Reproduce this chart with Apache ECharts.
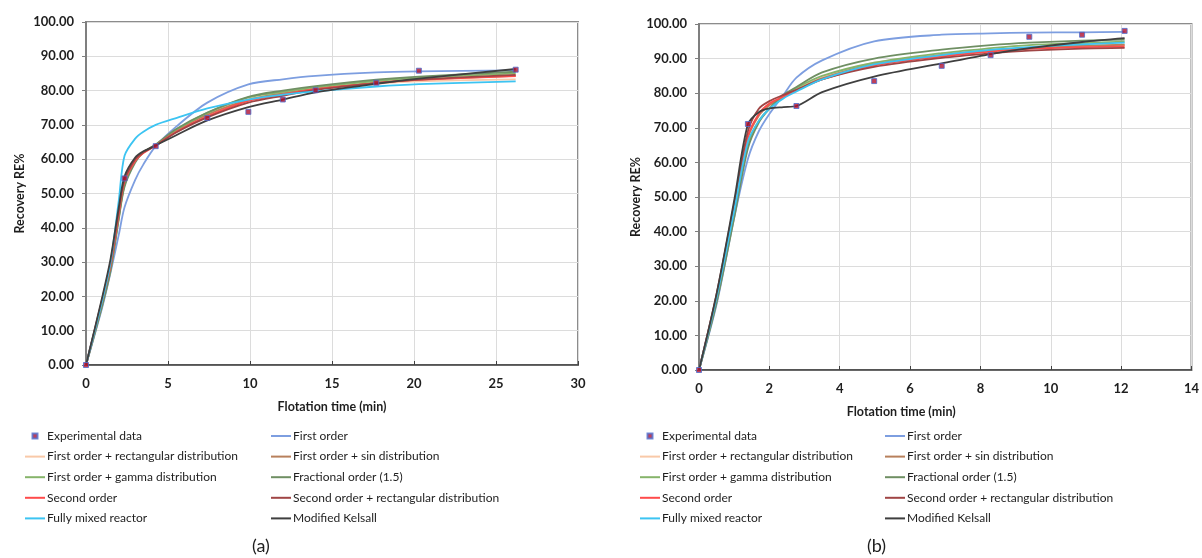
<!DOCTYPE html>
<html>
<head>
<meta charset="utf-8">
<script src="https://cdn.jsdelivr.net/npm/echarts@6/dist/echarts.min.js"></script>
<style>
  html, body { margin: 0; padding: 0; background: #fff; }
  #chart { width: 1202px; height: 558px; }
</style>
</head>
<body>
<div id="chart"></div>
<script>
// legend / series names (same for both panels)
const modelNames = [
  'First order',
  'First order + rectangular distribution',
  'First order + sin distribution',
  'First order + gamma distribution',
  'Fractional order (1.5)',
  'Second order',
  'Second order + rectangular distribution',
  'Fully mixed reactor',
  'Modified Kelsall'
]
const expName = 'Experimental data'

// panel (a)
const expTimeA = [0, 2.35, 4.25, 7.4, 9.9, 12, 14, 17.7, 20.3, 26.2]
const expRecA = [0, 54.4, 63.8, 72, 73.8, 77.4, 80.1, 82.3, 85.8, 86.1]
const fitTimeA = [0, 1, 1.5, 2, 2.35, 3, 3.5, 4.25, 5.5, 7.4, 9.9, 12, 14, 17.7, 20.3, 26.2]
const firstOrderA = [0, 17, 27, 38, 46, 54, 58.5, 63.8, 69.5, 76.5, 81.8, 83.3, 84.3, 85.3, 85.6, 85.9]
const firstRectA = [0, 18, 28, 43, 52.5, 59.5, 62, 64.2, 68.5, 73.2, 77.5, 79.3, 80.6, 82, 82.7, 83.3]
const firstSinA = [0, 18.5, 28.5, 43.5, 53, 59.5, 62, 64.1, 68.3, 73, 77.3, 79.2, 80.6, 82.3, 83.2, 84.3]
const firstGammaA = [0, 18, 28, 43, 52.5, 59.5, 62, 64.2, 68.5, 73.5, 78, 79.6, 81, 82.8, 83.7, 85.0]
const fractionalA = [0, 17.5, 27.5, 42.5, 52, 59, 62, 64.3, 68.8, 73.6, 78.2, 80, 81.3, 83.2, 84.1, 85.5]
const secondA = [0, 19, 29, 44, 53.5, 59.5, 61.8, 64, 68, 72.5, 77, 78.8, 80.4, 82.2, 83.1, 84.2]
const secondRectA = [0, 19.5, 30, 45, 54, 60, 62, 64, 67.8, 72.2, 76.5, 78.5, 80.2, 82.2, 83.2, 84.6]
const mixedA = [0, 19, 30, 48, 61, 66, 68, 70, 72, 74.8, 77.4, 78.8, 79.8, 81.2, 81.9, 82.7]
const kelsallA = [0, 20, 31, 46, 55, 60.5, 62.3, 64, 67, 71.3, 75.2, 77.4, 79.5, 82, 83.5, 86.3]

// panel (b)
const expTimeB = [0, 1.39, 2.77, 4.98, 6.9, 8.29, 9.39, 10.89, 12.1]
const expRecB = [0, 71.1, 76.3, 83.5, 87.9, 91.0, 96.3, 96.9, 98.0]
const fitTimeB = [0, 0.5, 1, 1.39, 1.7, 2, 2.4, 2.77, 3.5, 4.98, 6.9, 8.29, 9.39, 10.89, 12.1]
const firstOrderB = [0, 19, 44, 61, 69, 74, 79.5, 84.5, 89.5, 95, 96.9, 97.3, 97.5, 97.6, 97.7]
const firstRectB = [0, 20.5, 45.5, 65.5, 72, 75.5, 78.8, 81, 84.5, 88.8, 91.2, 92.5, 93.2, 93.8, 94.0]
const firstSinB = [0, 21, 46.5, 67, 73.5, 76.5, 79, 81, 84.3, 88.4, 91, 92.4, 93.1, 93.7, 94.0]
const firstGammaB = [0, 20, 45, 65, 72, 75.5, 79, 81.5, 85, 88.8, 91.6, 93, 93.9, 94.5, 94.9]
const fractionalB = [0, 19.5, 44, 64, 71.5, 75.5, 79.5, 81.8, 86, 90, 92.6, 93.9, 94.6, 95.2, 95.5]
const secondB = [0, 21.5, 47, 67.5, 74, 77, 79, 80.8, 84, 88, 90.6, 92, 92.8, 93.3, 93.5]
const secondRectB = [0, 22, 48, 69, 75.5, 77.7, 79.5, 81, 84, 87.6, 90.2, 91.5, 92.3, 92.9, 93.1]
const mixedB = [0, 21, 46, 66, 72, 75.5, 78.5, 80.5, 84, 88.3, 91, 92.5, 93.3, 94.1, 94.6]
const kelsallB = [0, 22, 49, 71, 74.5, 75.6, 76, 76.3, 80.3, 84.8, 88.6, 91.3, 93, 94.8, 95.9]

const fitsA = [firstOrderA, firstRectA, firstSinA, firstGammaA, fractionalA, secondA, secondRectA, mixedA, kelsallA]
const fitsB = [firstOrderB, firstRectB, firstSinB, firstGammaB, fractionalB, secondB, secondRectB, mixedB, kelsallB]

const colors = ['#7d9ee0', '#f9c9a8', '#b8805c', '#86b46a', '#6f8f63', '#ff4b4b', '#a04545', '#3cc4f2', '#3f3f3f']
const textColor = '#1e1e1e'
const squareIcon = 'path://M0,0L10,0L10,10L0,10Z'
const lineIcon = 'path://M0,0L40,0L40,4L0,4Z'

const zip = (xs, ys) => xs.map((x, i) => [x, ys[i]])

function buildSeries(fits, times, expT, expR, idx) {
  const lines = fits.map((vals, i) => ({
    name: modelNames[i],
    type: 'line',
    xAxisIndex: idx,
    yAxisIndex: idx,
    data: zip(times, vals),
    smooth: 0.3,
    symbol: 'none',
    lineStyle: { width: 1.8, color: colors[i] },
    itemStyle: { color: colors[i] },
    z: 2
  }))
  lines.push({
    name: expName,
    type: 'scatter',
    xAxisIndex: idx,
    yAxisIndex: idx,
    data: zip(expT, expR),
    symbol: 'rect',
    symbolSize: 5,
    itemStyle: { color: '#b01030', borderColor: '#4f6fd0', borderWidth: 1 },
    z: 5
  })
  return lines
}

function xAxisCfg(idx, max, interval, namePad) {
  return {
    type: 'value',
    gridIndex: idx,
    min: 0,
    max: max,
    interval: interval,
    name: 'Flotation time (min)',
    nameLocation: 'middle',
    nameGap: 35,
    nameTextStyle: { fontFamily: 'Lato', fontWeight: 'bold', fontSize: 12.5, color: textColor, padding: namePad },
    axisLine: { lineStyle: { color: '#404040', width: 1.5 } },
    axisTick: { inside: true, length: 4, lineStyle: { color: '#404040' } },
    axisLabel: { fontFamily: 'Lato', fontWeight: 'bold', fontSize: 13, color: textColor, margin: 12 },
    splitLine: { show: true, lineStyle: { color: '#dcdcdc', width: 1 } }
  }
}

function yAxisCfg(idx, gap) {
  return {
    type: 'value',
    gridIndex: idx,
    min: 0,
    max: 100,
    interval: 10,
    name: 'Recovery RE%',
    nameLocation: 'middle',
    nameGap: gap,
    nameTextStyle: { fontFamily: 'Lato', fontWeight: 'bold', fontSize: 12.5, color: textColor },
    axisLine: { show: true, lineStyle: { color: '#7f7f7f', width: 2 } },
    axisTick: { show: true, length: 4, lineStyle: { color: '#7f7f7f' } },
    axisLabel: {
      fontFamily: 'Lato', fontWeight: 'bold', fontSize: 13, color: textColor, margin: 12,
      formatter: v => v.toFixed(2)
    },
    splitLine: { show: true, lineStyle: { color: '#dcdcdc', width: 1 } }
  }
}

const col1 = [expName, modelNames[1], modelNames[3], modelNames[5], modelNames[7]]
const col2 = [modelNames[0], modelNames[2], modelNames[4], modelNames[6], modelNames[8]]

function legendCfg(left, names) {
  return {
    orient: 'vertical',
    left: left,
    top: 429,
    padding: 0,
    itemWidth: 20,
    itemHeight: 5,
    itemGap: 6.6,
    selectedMode: false,
    textStyle: {
      fontFamily: 'Lato',
      fontSize: 12,
      lineHeight: 14,
      color: textColor,
      padding: [0, 0, 0, -3]
    },
    data: names.map(n => ({ name: n, icon: n === expName ? squareIcon : lineIcon }))
  }
}

const chart = echarts.init(document.getElementById('chart'))

const option = {
  animation: false,
  backgroundColor: '#fff',
  grid: [
    { left: 86, top: 22, width: 492, height: 343, show: true, borderColor: '#8c8c8c', borderWidth: 2, backgroundColor: 'transparent' },
    { left: 699, top: 24, width: 495, height: 346, show: true, borderColor: '#8c8c8c', borderWidth: 2, backgroundColor: 'transparent' }
  ],
  xAxis: [xAxisCfg(0, 30, 5, [0, 0, 0, 0]), xAxisCfg(1, 14, 2, [0, 88, 0, 0])],
  yAxis: [yAxisCfg(0, 60), yAxisCfg(1, 56)],
  legend: [legendCfg(25, col1), legendCfg(271, col2), legendCfg(640, col1), legendCfg(885, col2)],
  graphic: [
    { type: 'text', left: 252, top: 537, style: { text: '(a)', font: '18px Lato', fill: textColor } },
    { type: 'text', left: 867, top: 537, style: { text: '(b)', font: '18px Lato', fill: textColor } }
  ],
  series: buildSeries(fitsA, fitTimeA, expTimeA, expRecA, 0)
    .concat(buildSeries(fitsB, fitTimeB, expTimeB, expRecB, 1))
}

chart.setOption(option)
</script>
</body>
</html>
